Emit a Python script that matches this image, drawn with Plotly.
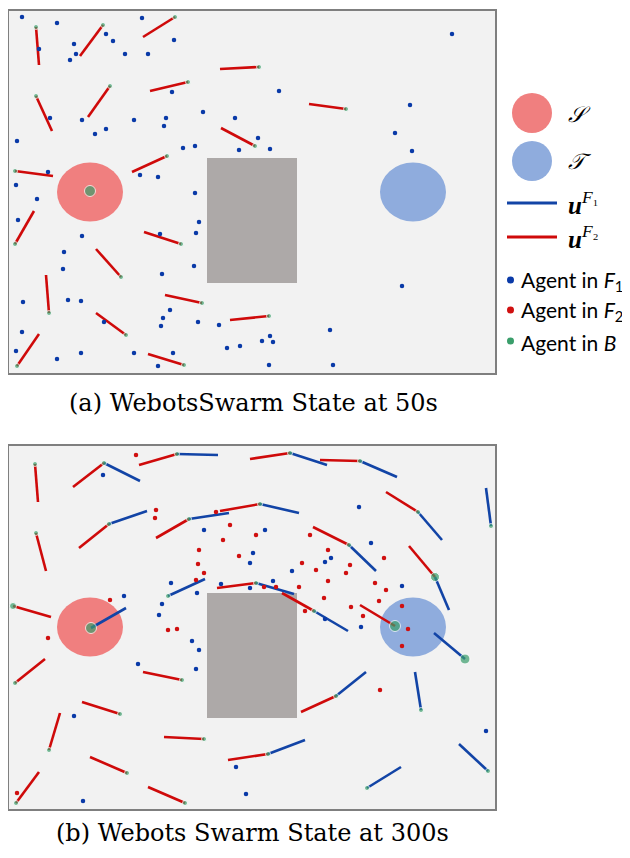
import plotly.graph_objects as go

# ---------------- arena geometry (arena units, y grows downward) ----------------
ARENA_W = 486
ARENA_H_A = 362
ARENA_H_B = 363
SOURCE_CENTER = (81, 181)
TARGET_CENTER = (404, 181)
REGION_RADII = (33, 29.5)
OBSTACLE = (198, 147, 288, 272)   # x0, y0, x1, y1

# ---------------- panel (a): state at 50 s ----------------
A_F1_DOTS = [(13, 6), (48, 12), (133, 7), (97, 23), (104, 30), (65, 33), (67, 43), (61, 49), (30, 38),
             (116, 43), (139, 43), (165, 29), (163, 81), (41, 107), (73, 109), (97, 118), (86, 123),
             (125, 109), (157, 107), (155, 115), (194, 101), (226, 107), (249, 127), (230, 139),
             (174, 137), (186, 135), (8, 130), (39, 161), (7, 174), (131, 164), (149, 166), (443, 23),
             (270, 80), (401, 94), (386, 122), (403, 140), (261, 138), (28, 188), (9, 209), (73, 225),
             (55, 241), (54, 258), (186, 182), (190, 211), (187, 222), (151, 223), (185, 255),
             (153, 263), (14, 291), (59, 289), (72, 290), (95, 311), (161, 299), (154, 307), (152, 315),
             (189, 311), (210, 314), (13, 321), (7, 340), (48, 348), (72, 342), (125, 342), (164, 342),
             (149, 355), (218, 337), (231, 335), (393, 275), (321, 319), (261, 325), (253, 330),
             (264, 331), (260, 354), (324, 354)]
A_F2_DOTS = []
A_B_AGENTS = [(27, 16), (94, 14), (166, 6), (250, 56), (179, 71), (27, 85), (101, 75), (246, 135),
              (158, 145), (6, 160), (337, 98), (6, 233), (172, 233), (112, 266), (40, 302), (193, 292),
              (117, 324), (8, 355), (175, 354), (260, 305), (81, 180)]
A_UF2_ENDS = [(30, 54), (71, 45), (134, 26), (211, 58), (141, 80), (43, 120), (79, 106), (212, 117),
              (123, 161), (44, 165), (300, 93), (25, 200), (135, 221), (87, 238), (37, 264), (156, 284),
              (87, 302), (30, 323), (139, 343), (221, 309), None]
A_UF1_ENDS = [None] * len(A_B_AGENTS)
A_B_SIZES = [5] * 20 + [11]

# ---------------- panel (b): state at 300 s ----------------
B_F1_DOTS = [(94, 29), (195, 84), (244, 107), (241, 117), (162, 137), (188, 147), (212, 138), (241, 142),
             (153, 158), (150, 169), (115, 150), (350, 61), (256, 84), (362, 97), (322, 112), (316, 116),
             (283, 125), (264, 135), (393, 140), (316, 173), (352, 181), (183, 195), (190, 204),
             (129, 218), (187, 223), (65, 270), (227, 321), (237, 348), (74, 355), (477, 285)]
B_F2_DOTS = [(127, 9), (147, 64), (146, 72), (207, 66), (221, 79), (214, 94), (190, 104), (230, 110),
             (247, 89), (189, 118), (195, 127), (187, 134), (101, 154), (159, 184), (168, 183), (39, 192),
             (301, 89), (319, 104), (293, 117), (307, 124), (341, 119), (337, 127), (319, 135), (375, 112),
             (366, 137), (377, 144), (370, 155), (315, 152), (296, 165), (342, 161), (354, 170), (393, 160),
             (399, 183), (290, 141), (267, 141), (255, 141), (8, 347), (393, 200), (371, 244)]
B_B_AGENTS = [(26, 18), (95, 17), (168, 8), (281, 7), (27, 87), (100, 78), (180, 73), (251, 58),
              (159, 150), (247, 137), (4, 160), (82, 182), (351, 15), (409, 66), (482, 80), (340, 99),
              (426, 131), (305, 165), (386, 180), (456, 213), (6, 237), (173, 234), (111, 268), (40, 304),
              (195, 293), (118, 327), (7, 357), (176, 357), (259, 308), (327, 250), (412, 264), (479, 325),
              (358, 342)]
B_UF2_ENDS = [(29, 56), (64, 41), (130, 19), (241, 13), (37, 125), (70, 102), (147, 92), (211, 65),
              None, (208, 142), (42, 171), None, (311, 14), (377, 46), None, (304, 81),
              (400, 100), (273, 147), (351, 159), None, (36, 213), (134, 226), (73, 256), (51, 267),
              (155, 291), (81, 311), (30, 326), (139, 341), (219, 314), (292, 266), None, None,
              None]
B_UF1_ENDS = [None, (131, 35), (209, 9), (318, 19), None, (138, 65), (220, 67), (290, 67),
              (196, 133), (285, 148), None, (117, 162), (388, 31), (433, 94), (477, 42), (367, 125),
              (440, 164), (339, 185), None, (425, 187), None, None, None, None,
              None, None, None, None, (296, 294), (357, 226), (406, 226), (450, 298),
              (392, 321)]
B_B_SIZES = [5] * 10 + [7, 11] + [5] * 4 + [9, 5, 11, 10] + [5] * 13

# ---------------- styles ----------------
RED_LINE = "#CF0A0A"
BLUE_LINE = "#1244A6"
RED_DOT = "#D01010"
BLUE_DOT = "#0A3AA8"
GREEN = "#3A9E6B"
S_FILL = "#F07F7F"
T_FILL = "#8FACDD"
OBST_FILL = "#ADA9A8"
PANEL_BG = "#F2F2F2"
FRAME = "#7F7F7F"

PAGE_OFF = 8            # default body margin of the html page
W, H = 630 - PAGE_OFF, 858 - PAGE_OFF


def segments(agents, ends):
    xs, ys = [], []
    for (x, y), e in zip(agents, ends):
        if e is None:
            continue
        xs += [x, e[0], None]
        ys += [y, e[1], None]
    return xs, ys


fig = go.Figure()


def add_panel(k, f1, f2, agents, u2, u1, sizes):
    xa, ya = ("x", "y") if k == 1 else ("x2", "y2")
    rx, ry = segments(agents, u2)
    bx, by = segments(agents, u1)
    fig.add_trace(go.Scatter(x=rx, y=ry, mode="lines", line=dict(color=RED_LINE, width=2.6),
                             xaxis=xa, yaxis=ya, hoverinfo="skip", showlegend=False))
    fig.add_trace(go.Scatter(x=bx, y=by, mode="lines", line=dict(color=BLUE_LINE, width=2.6),
                             xaxis=xa, yaxis=ya, hoverinfo="skip", showlegend=False))
    if f1:
        fig.add_trace(go.Scatter(x=[p[0] for p in f1], y=[p[1] for p in f1], mode="markers",
                                 marker=dict(color=BLUE_DOT, size=4.5), xaxis=xa, yaxis=ya,
                                 showlegend=False))
    if f2:
        fig.add_trace(go.Scatter(x=[p[0] for p in f2], y=[p[1] for p in f2], mode="markers",
                                 marker=dict(color=RED_DOT, size=4.5), xaxis=xa, yaxis=ya,
                                 showlegend=False))
    fig.add_trace(go.Scatter(x=[p[0] for p in agents], y=[p[1] for p in agents], mode="markers",
                             marker=dict(color=GREEN, size=sizes), xaxis=xa, yaxis=ya,
                             showlegend=False))
    for (cx, cy), col in ((SOURCE_CENTER, S_FILL), (TARGET_CENTER, T_FILL)):
        fig.add_shape(type="circle", xref=xa, yref=ya, x0=cx - REGION_RADII[0], x1=cx + REGION_RADII[0],
                      y0=cy - REGION_RADII[1], y1=cy + REGION_RADII[1], fillcolor=col,
                      line=dict(width=0), layer="below")
    fig.add_shape(type="rect", xref=xa, yref=ya, x0=OBSTACLE[0], y0=OBSTACLE[1], x1=OBSTACLE[2],
                  y1=OBSTACLE[3], fillcolor=OBST_FILL, line=dict(width=0), layer="below")


add_panel(1, A_F1_DOTS, A_F2_DOTS, A_B_AGENTS, A_UF2_ENDS, A_UF1_ENDS, A_B_SIZES)
add_panel(2, B_F1_DOTS, B_F2_DOTS, B_B_AGENTS, B_UF2_ENDS, B_UF1_ENDS, B_B_SIZES)


def px(x):
    return (x - PAGE_OFF) / W


def py(y):
    return 1 - (y - PAGE_OFF) / H


ax_common = dict(showgrid=False, zeroline=False, showticklabels=False, ticks="", showline=True,
                 mirror=True, linecolor=FRAME, linewidth=2, fixedrange=True)
fig.update_layout(
    width=W, height=H, margin=dict(l=0, r=0, t=0, b=0),
    paper_bgcolor="white", plot_bgcolor=PANEL_BG, showlegend=False,
    xaxis=dict(domain=[px(9), px(495)], range=[0, ARENA_W], anchor="y", **ax_common),
    yaxis=dict(domain=[py(373), py(11)], range=[ARENA_H_A, 0], anchor="x", **ax_common),
    xaxis2=dict(domain=[px(9), px(495)], range=[0, ARENA_W], anchor="y2", **ax_common),
    yaxis2=dict(domain=[py(809), py(446)], range=[ARENA_H_B, 0], anchor="x2", **ax_common),
)

# ---------------- legend (drawn manually) ----------------
LEG_X = 532
for cy, col in ((113, S_FILL), (161, T_FILL)):
    fig.add_shape(type="circle", xref="paper", yref="paper", x0=px(LEG_X - 20), x1=px(LEG_X + 20),
                  y0=py(cy + 20), y1=py(cy - 20), fillcolor=col, line=dict(width=0))
for cy, col in ((203, BLUE_LINE), (237, RED_LINE)):
    fig.add_shape(type="line", xref="paper", yref="paper", x0=px(507), x1=px(557), y0=py(cy), y1=py(cy),
                  line=dict(color=col, width=3))
for cy, col in ((280, BLUE_DOT), (310, RED_DOT), (341, GREEN)):
    fig.add_shape(type="circle", xref="paper", yref="paper", x0=px(507), x1=px(514),
                  y0=py(cy + 3.5), y1=py(cy - 3.5), fillcolor=col, line=dict(width=0))

math_font = dict(family="Liberation Serif", size=22, color="black")
u_font = dict(family="Liberation Serif", size=25, color="black")
text_font = dict(family="Lato", size=21, color="black")
legend_items = [
    (566, 114, "<i>𝒮</i>", math_font),
    (566, 162, "<i>𝒯</i>", math_font),
    (566, 203, "<b><i>u</i></b><sup><i>F</i>₁</sup>", u_font),
    (566, 237, "<b><i>u</i></b><sup><i>F</i>₂</sup>", u_font),
    (519, 281, "Agent in <i>F</i><sub>1</sub>", text_font),
    (519, 311, "Agent in <i>F</i><sub>2</sub>", text_font),
    (519, 342, "Agent in <i>B</i>", text_font),
]
for x, y, t, f in legend_items:
    fig.add_annotation(xref="paper", yref="paper", x=px(x), y=py(y), text=t, showarrow=False,
                       xanchor="left", yanchor="middle", font=f)

cap_font = dict(family="DejaVu Serif", size=24, color="black")
fig.add_annotation(xref="paper", yref="paper", x=px(253), y=py(403), text="(a) WebotsSwarm State at 50s",
                   showarrow=False, xanchor="center", yanchor="middle", font=cap_font)
fig.add_annotation(xref="paper", yref="paper", x=px(252), y=py(833), text="(b) Webots Swarm State at 300s",
                   showarrow=False, xanchor="center", yanchor="middle", font=cap_font)

fig.write_html("out.html")
